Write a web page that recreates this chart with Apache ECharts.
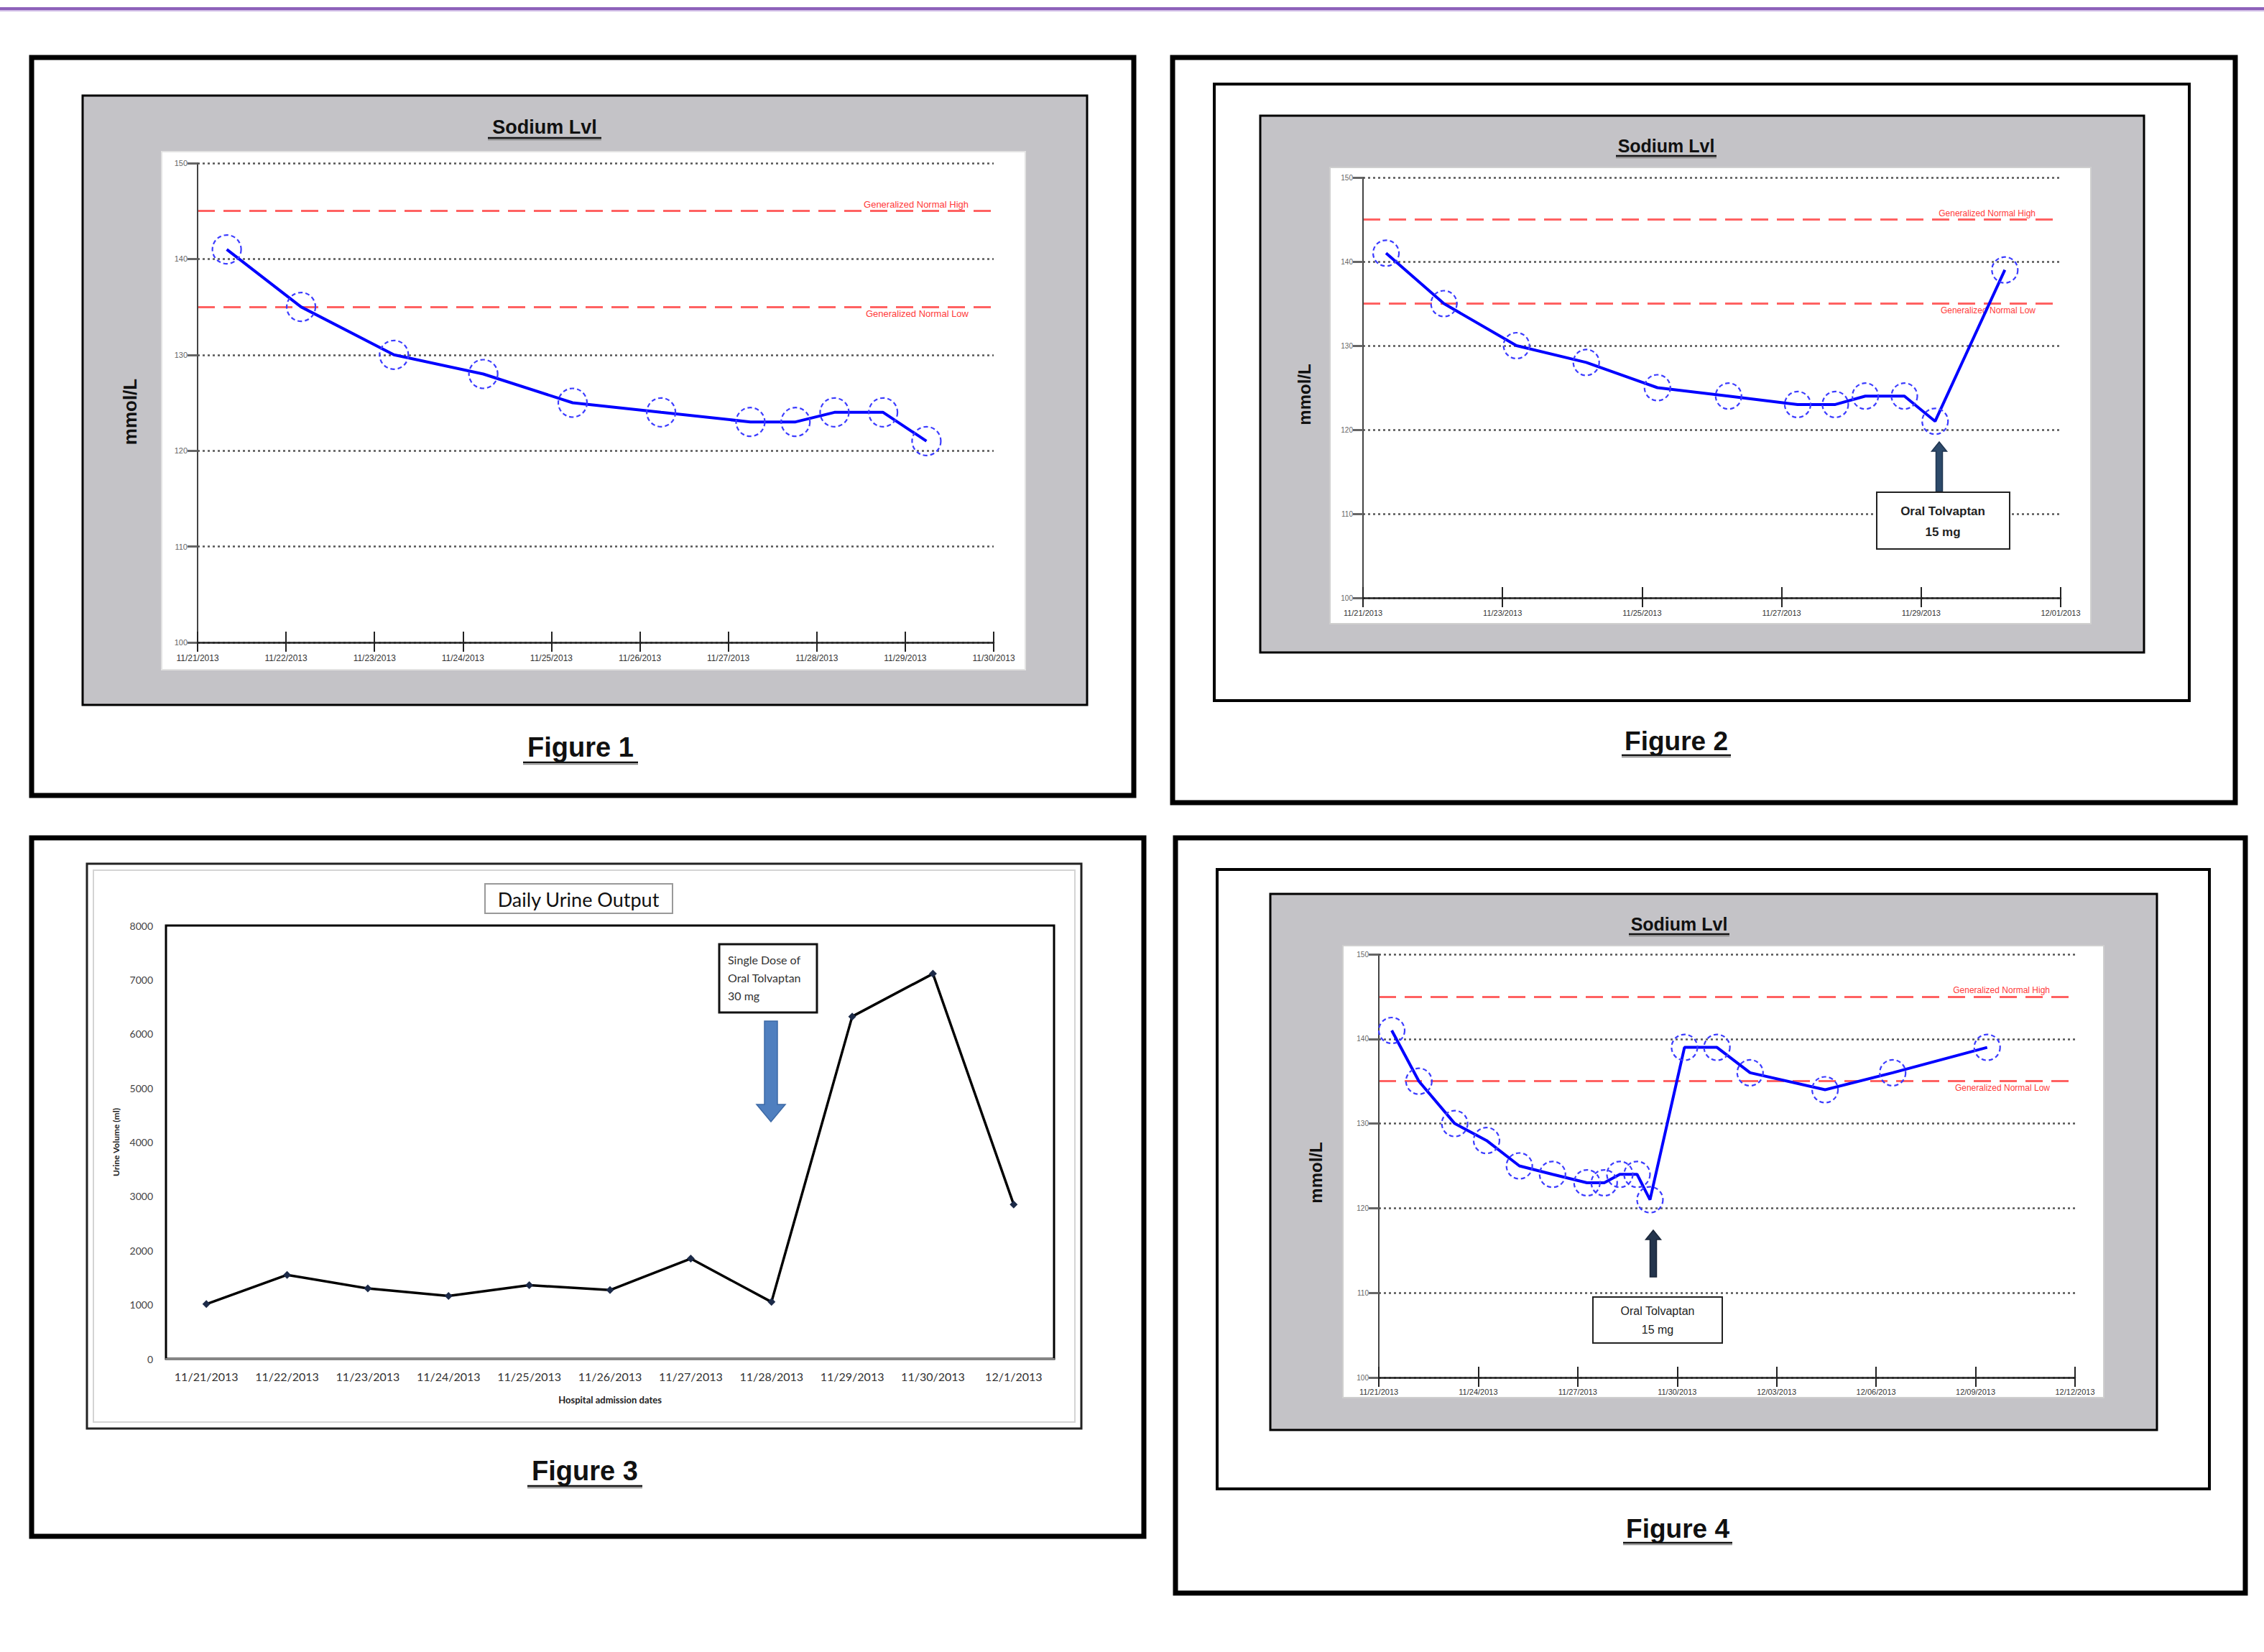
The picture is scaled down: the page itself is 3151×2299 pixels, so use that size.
<!DOCTYPE html>
<html>
<head>
<meta charset="utf-8">
<script src="https://cdn.jsdelivr.net/npm/echarts@6/dist/echarts.min.js"></script>
<style>
html,body{margin:0;padding:0;background:#fff;}
#c{width:3151px;height:2299px;}
</style>
</head>
<body>
<div id="c"></div>
<script>
// ---------------- DATA ----------------
const FIG1_TICKS = ['11/21/2013','11/22/2013','11/23/2013','11/24/2013','11/25/2013','11/26/2013','11/27/2013','11/28/2013','11/29/2013','11/30/2013'];
const FIG2_TICKS = ['11/21/2013','11/23/2013','11/25/2013','11/27/2013','11/29/2013','12/01/2013'];
const FIG4_TICKS = ['11/21/2013','11/24/2013','11/27/2013','11/30/2013','12/03/2013','12/06/2013','12/09/2013','12/12/2013'];
const SODIUM_MIN = 100, SODIUM_MAX = 150, SODIUM_STEP = 10;
const NORMAL_HIGH = 145, NORMAL_LOW = 135;

// days after 11/21/2013 00:00 and sodium (mmol/L)
const fig1Days   = [0.33, 1.17, 2.22, 3.23, 4.24, 5.24, 6.25, 6.76, 7.20, 7.75, 8.24];
const fig1Sodium = [141, 135, 130, 128, 125, 124, 123, 123, 124, 124, 121];
const fig2Days   = [0.33, 1.16, 2.20, 3.20, 4.22, 5.24, 6.23, 6.77, 7.20, 7.76, 8.20, 9.20];
const fig2Sodium = [141, 135, 130, 128, 125, 124, 123, 123, 124, 124, 121, 139];
const fig4Days   = [0.39, 1.21, 2.29, 3.25, 4.24, 5.24, 6.28, 6.80, 7.27, 7.79, 8.18, 9.22, 10.20, 11.20, 13.46, 15.50, 18.35];
const fig4Sodium = [141, 135, 130, 128, 125, 124, 123, 123, 124, 124, 121, 139, 139, 136, 134, 136, 139];

const urineDates = ['11/21/2013','11/22/2013','11/23/2013','11/24/2013','11/25/2013','11/26/2013','11/27/2013','11/28/2013','11/29/2013','11/30/2013','12/1/2013'];
const urineMl    = [1010, 1550, 1300, 1160, 1360, 1270, 1850, 1050, 6320, 7110, 2850];
const URINE_MIN = 0, URINE_MAX = 8000, URINE_STEP = 1000;

// ---------------- HELPERS ----------------
const SANS = '"Liberation Sans", Arial, sans-serif';
const NARROW = '"Liberation Sans Narrow", "Liberation Sans", Arial, sans-serif';
const LATO = 'Lato, "Open Sans", sans-serif';

const G = [];
function rect(x1, y1, x2, y2, fill, stroke, lw, z) {
  G.push({type:'rect', silent:true, z: z == null ? 1 : z,
    shape:{x:x1, y:y1, width:x2-x1, height:y2-y1},
    style:{fill: fill || 'none', stroke: stroke || 'none', lineWidth: lw || 0}});
}
function line(x1, y1, x2, y2, stroke, lw, z) {
  G.push({type:'line', silent:true, z: z == null ? 20 : z,
    shape:{x1, y1, x2, y2}, style:{stroke, lineWidth: lw}});
}
function txt(x, y, text, font, fill, align, rotation, z) {
  G.push({type:'text', silent:true, z: z == null ? 20 : z, x, y, rotation: rotation || 0,
    style:{text, font, fill, align: align || 'center', verticalAlign:'middle',
           textAlign: align || 'center', textVerticalAlign:'middle'}});
}
function poly(points, fill, stroke, z) {
  G.push({type:'polygon', silent:true, z: z == null ? 20 : z,
    shape:{points}, style:{fill, stroke: stroke || 'none', lineWidth: stroke ? 1.5 : 0}});
}
function upArrow(cx, tip, bottom, shaftW, headW, headH, fill, stroke) {
  poly([[cx, tip],[cx+headW/2, tip+headH],[cx+shaftW/2, tip+headH],[cx+shaftW/2, bottom],
        [cx-shaftW/2, bottom],[cx-shaftW/2, tip+headH],[cx-headW/2, tip+headH]], fill, stroke);
}
function downArrow(cx, top, tip, shaftW, headW, headH, fill, stroke) {
  poly([[cx, tip],[cx+headW/2, tip-headH],[cx+shaftW/2, tip-headH],[cx+shaftW/2, top],
        [cx-shaftW/2, top],[cx-shaftW/2, tip-headH],[cx-headW/2, tip-headH]], fill, stroke);
}
function underlined(x, y, text, size, halfW, gap) {
  txt(x, y, text, 'bold ' + size + 'px ' + SANS, '#111');
  line(x-halfW, y+gap, x+halfW, y+gap, '#111', 2.5);
  line(x-halfW, y+gap+2.5, x+halfW, y+gap+2.5, '#888', 1.5);
}

// ---------------- LAYOUT GRAPHICS ----------------
const GRAY = '#c4c3c7';
// top rule
line(0, 12, 3151, 12, '#8d61ba', 4, 1);
line(0, 15, 3151, 15, '#d3c0e8', 2, 1);

// Panel 1
rect(44, 80, 1578, 1107, '#fff', '#000', 7);
rect(115, 133, 1513, 981, GRAY, '#000', 3);
rect(225, 211, 1427, 932, '#fff', '#e2e2e2', 2);
underlined(758, 177, 'Sodium Lvl', 27, 79, 15);
txt(181, 573, 'mmol/L', 'bold 26px ' + SANS, '#111', 'center', Math.PI/2);
underlined(808, 1040, 'Figure 1', 38, 80, 21);

// Panel 2
rect(1632, 80, 3111, 1117, '#fff', '#000', 7);
rect(1690, 117, 3047, 975, '#fff', '#000', 4);
rect(1754, 161, 2984, 908, GRAY, '#000', 3);
rect(1851, 233, 2910, 868, '#fff', '#cfcfcf', 2);
underlined(2319, 203, 'Sodium Lvl', 25, 70, 14);
txt(1815, 549, 'mmol/L', 'bold 24px ' + SANS, '#111', 'center', Math.PI/2);
underlined(2333, 1031, 'Figure 2', 37, 76, 20);
upArrow(2699, 615, 684, 9, 21, 13, '#2d4a6a', '#1f3550');
rect(2612, 685, 2797, 764, '#fff', '#222', 2, 20);
txt(2704, 711, 'Oral Tolvaptan', 'bold 17px ' + SANS, '#222');
txt(2704, 740, '15 mg', 'bold 17px ' + SANS, '#222');

// Panel 3
rect(44, 1166, 1592, 2138, '#fff', '#000', 7);
rect(121, 1202, 1505, 1988, '#fff', '#222', 3);
rect(130, 1211, 1496, 1979, 'none', '#d4d4d4', 2);
rect(675, 1230, 936, 1271, '#fff', '#999', 2, 20);
txt(805, 1251, 'Daily Urine Output', '27px ' + LATO, '#111');
rect(1001, 1314, 1137, 1409, '#fff', '#111', 3, 20);
txt(1013, 1335, 'Single Dose of', '16px ' + LATO, '#333', 'left');
txt(1013, 1360, 'Oral Tolvaptan', '16px ' + LATO, '#333', 'left');
txt(1013, 1385, '30 mg', '16px ' + LATO, '#333', 'left');
downArrow(1073, 1421, 1561, 18, 40, 24, '#4f7fbf', '#3d6aa6');
underlined(814, 2047, 'Figure 3', 38, 80, 21);

// Panel 4
rect(1636, 1166, 3125, 2217, '#fff', '#000', 7);
rect(1694, 1210, 3075, 2072, '#fff', '#000', 4);
rect(1768, 1244, 3002, 1990, GRAY, '#000', 3);
rect(1869, 1316, 2928, 1945, '#fff', '#cfcfcf', 2);
underlined(2337, 1286, 'Sodium Lvl', 25, 70, 14);
txt(1831, 1632, 'mmol/L', 'bold 24px ' + SANS, '#111', 'center', Math.PI/2);
underlined(2335, 2127, 'Figure 4', 37, 76, 20);
upArrow(2301, 1712, 1777, 9, 21, 13, '#24354d', '#1a2638');
rect(2217, 1805, 2397, 1869, '#fff', '#222', 2, 20);
txt(2307, 1824, 'Oral Tolvaptan', '16px ' + SANS, '#222');
txt(2307, 1850, '15 mg', '16px ' + SANS, '#222');

// ---------------- AXES ----------------
function sodiumXAxes(gridIndex, ticks, step, fontSize, margin) {
  const max = (ticks.length - 1) * step;
  const base = {type:'value', gridIndex, min:0, max, interval:step, position:'bottom', z:8};
  return [
    Object.assign({}, base, {
      axisLine:{show:true, onZero:false, lineStyle:{color:'#222', width:2.5}},
      axisTick:{show:true, inside:false, length:13, lineStyle:{color:'#222', width:2}},
      axisLabel:{show:true, fontSize, fontFamily:NARROW, color:'#333', margin,
        showMinLabel:true, showMaxLabel:true, hideOverlap:false,
        formatter: v => ticks[Math.round(v / step)] || ''},
      splitLine:{show:false}
    }),
    Object.assign({}, base, {
      axisLine:{show:false, onZero:false},
      axisTick:{show:true, inside:true, length:15, lineStyle:{color:'#222', width:2}},
      axisLabel:{show:false},
      splitLine:{show:false}
    })
  ];
}
function sodiumYAxis(gridIndex, fontSize) {
  return {type:'value', gridIndex, min:SODIUM_MIN, max:SODIUM_MAX, interval:SODIUM_STEP, z:8,
    axisLine:{show:true, lineStyle:{color:'#444', width:2}},
    axisTick:{show:true, inside:false, length:14, lineStyle:{color:'#666', width:3}},
    axisLabel:{fontSize, fontFamily:NARROW, color:'#666', margin:14},
    splitLine:{show:true, lineStyle:{color:'#555', width:2.5, type:[3,4]}}
  };
}
function sodiumSeries(axisX, axisY, days, vals, symbolSize, labelSize) {
  return {
    type:'line', xAxisIndex:axisX, yAxisIndex:axisY, z:10,
    data: days.map((d, i) => [d, vals[i]]),
    symbol:'circle', symbolSize,
    showAllSymbol:true,
    lineStyle:{color:'#0000ff', width:4},
    itemStyle:{color:'rgba(0,0,0,0)', borderColor:'#3c3cff', borderWidth:2.2, borderType:[6,4]},
    emphasis:{disabled:true},
    markLine:{
      silent:true, symbol:['none','none'], animation:false,
      lineStyle:{color:'#ff6262', width:3, type:[24,12]},
      label:{show:true, color:'#ff3a3a', fontSize:labelSize, fontFamily:NARROW, distance:3, padding:[0,32,0,0]},
      data:[
        {yAxis:NORMAL_HIGH, label:{position:'insideEndTop', formatter:'Generalized Normal High'}},
        {yAxis:NORMAL_LOW, label:{position:'insideEndBottom', formatter:'Generalized Normal Low'}}
      ]
    }
  };
}

const x1 = sodiumXAxes(0, FIG1_TICKS, 1, 12, 16);
const x2 = sodiumXAxes(1, FIG2_TICKS, 2, 11, 15);
const x4 = sodiumXAxes(3, FIG4_TICKS, 3, 11, 14);

const urineX = {type:'category', gridIndex:2, data:urineDates, boundaryGap:true, z:8,
  axisLine:{show:true, lineStyle:{color:'#888', width:2}},
  axisTick:{show:false},
  axisLabel:{fontSize:16, fontFamily:LATO, color:'#333', margin:16, interval:0},
  name:'Hospital admission dates', nameLocation:'middle', nameGap:50,
  nameTextStyle:{fontSize:13, fontWeight:'bold', fontFamily:LATO, color:'#222'}};
const urineY = {type:'value', gridIndex:2, min:URINE_MIN, max:URINE_MAX, interval:URINE_STEP, z:8,
  axisLine:{show:false}, axisTick:{show:false}, splitLine:{show:false},
  axisLabel:{fontSize:14, fontFamily:LATO, color:'#444', margin:18, formatter: v => String(v)},
  name:'Urine Volume (ml)', nameLocation:'middle', nameRotate:90, nameGap:64,
  nameTextStyle:{fontSize:12, fontWeight:'bold', fontFamily:LATO, color:'#222'}};

const option = {
  backgroundColor:'#fff',
  animation:false,
  graphic:{elements:G},
  grid:[
    {left:275, top:227, width:1108, height:667, outerBoundsMode:'none', containLabel:false},
    {left:1897, top:247, width:971, height:585, outerBoundsMode:'none', containLabel:false},
    {left:231, top:1288, width:1236, height:603, outerBoundsMode:'none', containLabel:false,
     show:true, backgroundColor:'#fff', borderColor:'#000', borderWidth:3, z:5},
    {left:1919, top:1328, width:969, height:589, outerBoundsMode:'none', containLabel:false}
  ],
  xAxis:[x1[0], x1[1], x2[0], x2[1], urineX, x4[0], x4[1]],
  yAxis:[sodiumYAxis(0, 11), sodiumYAxis(1, 10), urineY, sodiumYAxis(3, 10)],
  series:[
    sodiumSeries(0, 0, fig1Days, fig1Sodium, 40, 13),
    sodiumSeries(2, 1, fig2Days, fig2Sodium, 36, 12),
    {type:'line', xAxisIndex:4, yAxisIndex:2, z:10, data:urineMl,
     symbol:'diamond', symbolSize:11, lineStyle:{color:'#000', width:3.5},
     itemStyle:{color:'#1c2a48'}, emphasis:{disabled:true}},
    sodiumSeries(5, 3, fig4Days, fig4Sodium, 36, 12)
  ]
};

const chart = echarts.init(document.getElementById('c'), null, {renderer:'svg', width:3151, height:2299});
chart.setOption(option);
</script>
</body>
</html>
